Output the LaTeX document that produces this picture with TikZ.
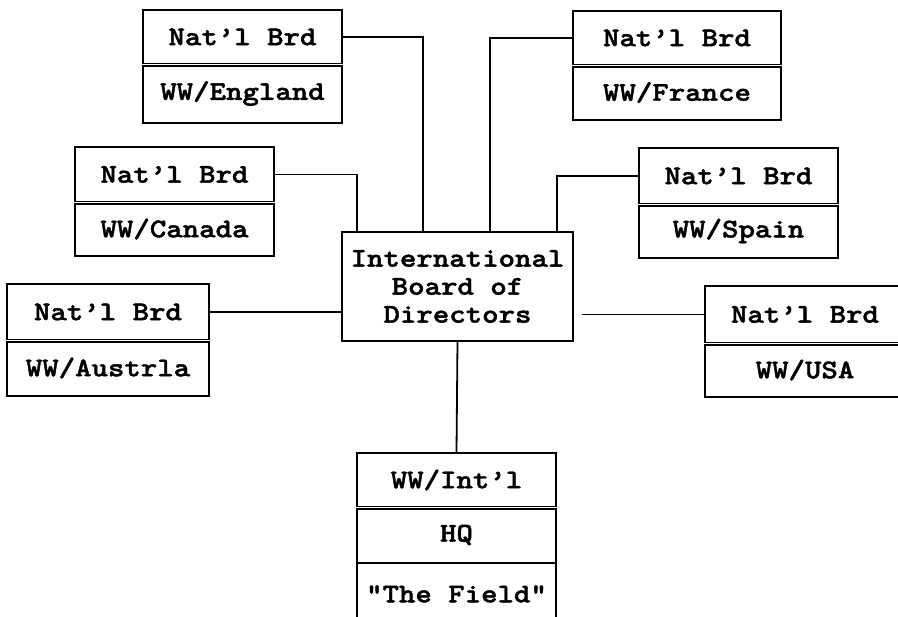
\documentclass[tikz,border=0pt]{standalone}
\usepackage{fontspec}
\newfontfamily\cour{lmmonolt10-bold}[Extension=.otf,FakeStretch=1.16,FakeBold=1.6]
\usetikzlibrary{positioning,calc}

\begin{document}
\begin{tikzpicture}[
  x=1pt, y=-1pt,
  every node/.style={font=\cour\fontsize{27}{28}\selectfont},
  cell/.style={draw,rectangle,line width=1.6pt,inner sep=0pt,minimum width=199pt},
  ln/.style={line width=1.8pt},
  dv/.style={line width=1.3pt,double,double distance=1.2pt}
]
\useasboundingbox (0,0) rectangle (898,617);
\clip (0,0) rectangle (898,617);

% central board
\node[cell,minimum width=231pt,minimum height=109pt,align=center] (ibd) at (457.5,286.5)
  {International\\Board of\\Directors};

% national boards
\node[cell,minimum height=54pt] (engT) at (242.5,37) {Nat’l Brd};
\node[cell,minimum height=59pt] (engB) at (242.5,93.5) {WW/England};
\node[cell,minimum width=208pt,minimum height=54pt] (fraT) at (677,38) {Nat’l Brd};
\node[cell,minimum width=208pt,minimum height=55pt] (fraB) at (677,92.5) {WW/France};
\node[cell,minimum height=55pt] (canT) at (174.5,174.5) {Nat’l Brd};
\node[cell,minimum height=54pt] (canB) at (174.5,229) {WW/Canada};
\node[cell,minimum height=56pt] (spaT) at (738.5,176) {Nat’l Brd};
\node[cell,minimum height=54pt] (spaB) at (738.5,231) {WW/Spain};
\node[cell,minimum width=202pt,minimum height=56pt] (ausT) at (108,312) {Nat’l Brd};
\node[cell,minimum width=202pt,minimum height=56pt] (ausB) at (108,368) {WW/Austrla};
\node[cell,minimum width=200pt,minimum height=57pt] (usaT) at (805,314.5) {Nat’l Brd};
\node[cell,minimum width=200pt,minimum height=54pt] (usaB) at (805,370) {WW/USA};

% headquarters
\node[cell,minimum height=54pt] (hqA) at (456.5,480) {WW/Int’l};
\node[cell,minimum height=56pt] (hqB) at (456.5,535) {HQ};
\node[cell,minimum height=62pt] (hqC) at (456.5,594) {"The Field"};

% double dividers
\foreach \c in {engT,fraT,canT,spaT,ausT,usaT,hqA}
  \draw[dv] (\c.south west) -- (\c.south east);

% connectors
\draw[ln] (engT.east) -| ([xshift=-34.5pt]ibd.north);
\draw[ln] (fraT.west) -| ([xshift=32.5pt]ibd.north);
\draw[ln] (canT.east) -| ([xshift=-100.5pt]ibd.north);
\draw[ln] (spaT.west) -| ([xshift=99.5pt]ibd.north);
\draw[ln] (ausT.east) -- (ausT.east -| ibd.west);
\draw[ln,shorten >=8pt] (usaT.west) -- (usaT.west -| ibd.east);
\draw[ln] (ibd.south) -- (hqA.north);
\end{tikzpicture}
\end{document}
